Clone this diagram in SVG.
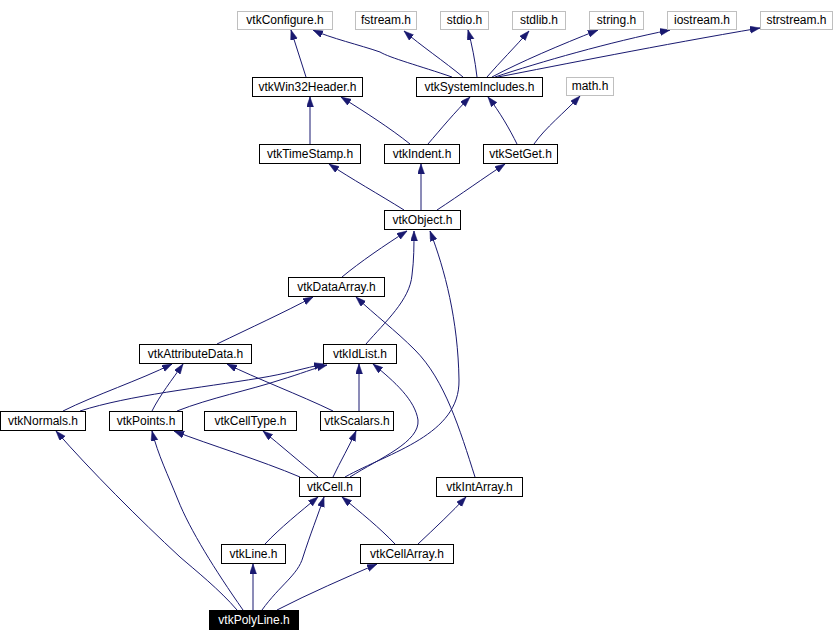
<svg xmlns="http://www.w3.org/2000/svg" width="834" height="642" viewBox="0 0 834 642">
<style>
.n rect{fill:#fff;stroke:#000;stroke-width:1}
.g rect{fill:#fff;stroke:#bfbfbf;stroke-width:1}
.n text,.g text{font-family:"Liberation Sans",Arial,sans-serif;font-size:12px;text-anchor:middle;fill:#000}
.hl rect{fill:#000;stroke:#000}
.hl text{fill:#fff}
#edges path{fill:none;stroke:#191970;stroke-width:1;marker-end:url(#ah)}
</style>
<defs>
<marker id="ah" markerUnits="userSpaceOnUse" markerWidth="11" markerHeight="8" refX="10" refY="3.5" orient="auto">
<path d="M0,0 L10,3.5 L0,7 z" fill="#191970" stroke="#191970" stroke-width="0.5"/>
</marker>
</defs>
<rect width="834" height="642" fill="#fff"/>
<g id="edges">
<path d="M306,77 L291,30"/>
<path d="M452,77 C420,66 390,58 380,52 C360,45 330,38 313,30"/>
<path d="M463,77 C445,62 420,45 404,31"/>
<path d="M477,77 C475,60 472,45 468,30"/>
<path d="M487,77 C500,62 515,47 529,31"/>
<path d="M492,77 C520,62 560,45 598,30"/>
<path d="M495,77 C540,62 610,42 670,30"/>
<path d="M498,77 C560,65 660,45 760,28"/>
<path d="M310,144 L310,97"/>
<path d="M410,144 C390,128 365,112 341,97"/>
<path d="M428,144 C440,130 455,112 470,97"/>
<path d="M517,144 C510,130 500,112 488,97"/>
<path d="M534,144 C545,128 565,112 580,96"/>
<path d="M404,210 C380,195 350,178 329,164"/>
<path d="M421,210 L421,164"/>
<path d="M437,210 C460,195 485,177 505,164"/>
<path d="M342,277 C360,262 385,245 407,231"/>
<path d="M366,344 C385,322 410,300 412,275 C414,260 414,245 414,231"/>
<path d="M345,477 C390,452 460,435 459,380 C458,320 445,270 430,231"/>
<path d="M475,477 C460,430 445,380 415,350 C395,330 375,315 356,297"/>
<path d="M217,344 C250,328 285,312 313,297"/>
<path d="M63,411 C95,395 140,380 172,364"/>
<path d="M80,411 C130,395 200,388 260,378 C285,374 305,368 324,364"/>
<path d="M152,411 C160,395 172,380 183,364"/>
<path d="M177,411 C210,398 250,390 280,380 C300,374 315,368 327,365"/>
<path d="M333,411 C300,395 255,378 227,364"/>
<path d="M359,411 L359,364"/>
<path d="M350,477 C380,458 420,442 418,420 C415,400 395,382 373,364"/>
<path d="M300,477 C260,460 210,445 174,431"/>
<path d="M318,477 C300,462 280,445 263,431"/>
<path d="M333,477 C340,462 350,445 356,431"/>
<path d="M265,544 C280,528 300,512 318,497"/>
<path d="M395,544 C380,528 360,512 342,497"/>
<path d="M418,544 C435,528 452,512 466,497"/>
<path d="M253,610 L253,564"/>
<path d="M262,610 C280,585 298,575 303,557 C310,535 318,515 324,497"/>
<path d="M277,610 C310,593 345,578 377,564"/>
<path d="M243,610 C215,570 190,530 178,500 C168,475 158,455 152,431"/>
<path d="M237,610 C220,590 195,570 180,557 C140,520 90,470 56,431"/>
</g>
<g id="vtkConfigure" class="g"><rect x="237.5" y="11.5" width="95" height="18"/><text x="285" y="24">vtkConfigure.h</text></g>
<g id="fstream" class="g"><rect x="355.5" y="11.5" width="61" height="18"/><text x="386" y="24">fstream.h</text></g>
<g id="stdio" class="g"><rect x="440.5" y="11.5" width="48" height="18"/><text x="464.5" y="24">stdio.h</text></g>
<g id="stdlib" class="g"><rect x="512.5" y="11.5" width="53" height="18"/><text x="539" y="24">stdlib.h</text></g>
<g id="string" class="g"><rect x="589.5" y="11.5" width="54" height="18"/><text x="616.5" y="24">string.h</text></g>
<g id="iostream" class="g"><rect x="667.5" y="11.5" width="69" height="18"/><text x="702" y="24">iostream.h</text></g>
<g id="strstream" class="g"><rect x="760.5" y="11.5" width="72" height="18"/><text x="796.5" y="24">strstream.h</text></g>
<g id="vtkWin32Header" class="n"><rect x="252.5" y="77.5" width="110" height="19"/><text x="307.5" y="91">vtkWin32Header.h</text></g>
<g id="vtkSystemIncludes" class="n"><rect x="416.5" y="77.5" width="126" height="19"/><text x="479.5" y="91">vtkSystemIncludes.h</text></g>
<g id="math" class="g"><rect x="566.5" y="77.5" width="47" height="18"/><text x="590" y="90">math.h</text></g>
<g id="vtkTimeStamp" class="n"><rect x="259.5" y="144.5" width="101" height="19"/><text x="310" y="158">vtkTimeStamp.h</text></g>
<g id="vtkIndent" class="n"><rect x="384.5" y="144.5" width="75" height="19"/><text x="422" y="158">vtkIndent.h</text></g>
<g id="vtkSetGet" class="n"><rect x="483.5" y="144.5" width="74" height="19"/><text x="520.5" y="158">vtkSetGet.h</text></g>
<g id="vtkObject" class="n"><rect x="384.5" y="210.5" width="76" height="19"/><text x="422.5" y="224">vtkObject.h</text></g>
<g id="vtkDataArray" class="n"><rect x="288.5" y="277.5" width="96" height="19"/><text x="336.5" y="291">vtkDataArray.h</text></g>
<g id="vtkAttributeData" class="n"><rect x="139.5" y="344.5" width="112" height="19"/><text x="195.5" y="358">vtkAttributeData.h</text></g>
<g id="vtkIdList" class="n"><rect x="323.5" y="344.5" width="73" height="19"/><text x="360" y="358">vtkIdList.h</text></g>
<g id="vtkNormals" class="n"><rect x="0.5" y="411.5" width="85" height="19"/><text x="43" y="425">vtkNormals.h</text></g>
<g id="vtkPoints" class="n"><rect x="109.5" y="411.5" width="73" height="19"/><text x="146" y="425">vtkPoints.h</text></g>
<g id="vtkCellType" class="n"><rect x="204.5" y="411.5" width="92" height="19"/><text x="250.5" y="425">vtkCellType.h</text></g>
<g id="vtkScalars" class="n"><rect x="320.5" y="411.5" width="73" height="19"/><text x="357" y="425">vtkScalars.h</text></g>
<g id="vtkCell" class="n"><rect x="299.5" y="477.5" width="61" height="19"/><text x="330" y="491">vtkCell.h</text></g>
<g id="vtkIntArray" class="n"><rect x="436.5" y="477.5" width="86" height="19"/><text x="479.5" y="491">vtkIntArray.h</text></g>
<g id="vtkLine" class="n"><rect x="221.5" y="544.5" width="64" height="19"/><text x="253.5" y="558">vtkLine.h</text></g>
<g id="vtkCellArray" class="n"><rect x="360.5" y="544.5" width="93" height="19"/><text x="407" y="558">vtkCellArray.h</text></g>
<g id="vtkPolyLine" class="n hl"><rect x="209.5" y="610.5" width="89" height="19"/><text x="254" y="624">vtkPolyLine.h</text></g>
</svg>
